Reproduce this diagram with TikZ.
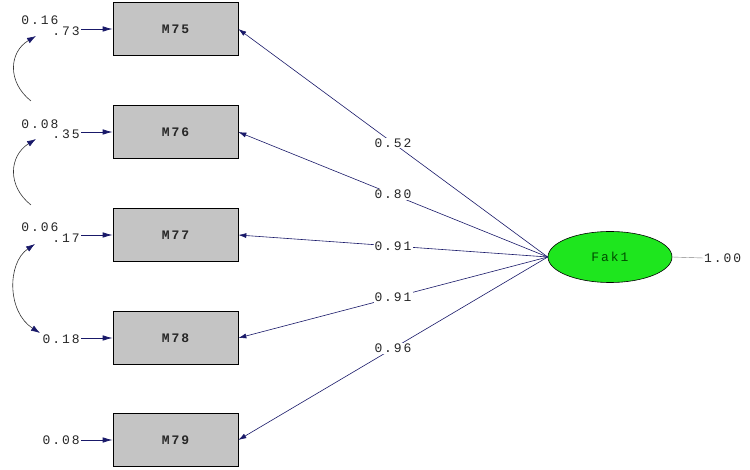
\documentclass[tikz,border=0pt]{standalone}
\usepackage{fontspec}
\newfontfamily\mono[LetterSpace=15]{Liberation Mono}
\usetikzlibrary{arrows.meta,shapes.geometric}
\definecolor{navy}{RGB}{25,25,105}
\definecolor{boxgray}{RGB}{196,196,196}
\definecolor{fakgreen}{RGB}{30,230,30}
\tikzset{covtip/.tip={Latex[length=9pt,width=6pt,color=navy]}}
\begin{document}
\begin{tikzpicture}[x=1pt,y=-1pt,
  txt/.style={font=\mono\fontsize{13}{13}\selectfont},
  obs/.style={draw=black, line width=0.7pt, fill=boxgray, minimum width=125pt, minimum height=53pt, inner sep=0pt, font=\mono\fontsize{13}{13}\selectfont\bfseries, text=black!85},
  lat/.style={draw=black, line width=0.6pt, fill=fakgreen, ellipse, minimum width=124pt, minimum height=51pt, inner sep=0pt, txt, text=green!30!black},
  lbl/.style={txt, inner sep=1pt, text=black!85},
  pathline/.style={draw=navy, line width=0.6pt, -{Latex[length=8pt,width=5pt]}},
  err/.style={draw=navy, line width=0.8pt, -{Latex[length=10pt,width=5.5pt]}},
  cov/.style={draw=black!80, line width=0.6pt}
]
\useasboundingbox (0,0) rectangle (750,470);
\fill[white] (0,0) rectangle (750,470);
\node[obs] (m75) at (175.5,29) {M75};
\node[obs] (m76) at (175.5,132) {M76};
\node[obs] (m77) at (175.5,235) {M77};
\node[obs] (m78) at (175.5,338) {M78};
\node[obs] (m79) at (175.5,440) {M79};
\node[lat] (fak) at (610,257) {Fak1};
\coordinate (src) at (fak.west);
% paths
\draw[pathline] (src) -- node[lbl, fill=white, pos=0.5] {0.52} (m75.east);
\draw[pathline] (src) -- node[lbl, fill=white, pos=0.5] {0.80} (m76.east);
\draw[pathline] (src) -- node[lbl, fill=white, pos=0.5] {0.91} (m77.east);
\draw[pathline] (src) -- node[lbl, fill=white, pos=0.5] {0.91} (m78.east);
\draw[pathline] (src) -- node[lbl, fill=white, pos=0.5] {0.96} (m79.east);
% factor variance
\node[lbl, anchor=west] (v) at (703,258) {1.00};
\draw[gray, line width=0.4pt] (fak.east) -- (v.west);
% error variances
\node[lbl, anchor=east] (e75) at (81,31) {.73};
\node[lbl, anchor=east] (e76) at (81,134) {.35};
\node[lbl, anchor=east] (e77) at (81,238) {.17};
\node[lbl, anchor=east] (e78) at (81,339) {0.18};
\node[lbl, anchor=east] (e79) at (81,440) {0.08};
\draw[err] (e75.east |- m75.west) -- (m75.west);
\draw[err] (e76.east |- m76.west) -- (m76.west);
\draw[err] (e77.east |- m77.west) -- (m77.west);
\draw[err] (e78.east |- m78.west) -- (m78.west);
\draw[err] (e79.east |- m79.west) -- (m79.west);
% covariance labels
\node[lbl] (c1) at (40,20) {0.16};
\node[lbl] (c2) at (40,124) {0.08};
\node[lbl] (c3) at (40,227) {0.06};
% covariance arcs
\coordinate (a1s) at (31,101);
\coordinate (a1e) at (36,36);
\coordinate (a2s) at (31,205);
\coordinate (a2e) at (36,139);
\coordinate (a3s) at (35,244);
\coordinate (a3e) at (40,333);
\draw[cov, -covtip] (a1s) .. controls (7,82) and (9,52) .. (a1e);
\draw[cov, -covtip] (a2s) .. controls (7,186) and (9,156) .. (a2e);
\draw[cov, covtip-covtip] (a3s) .. controls (7,263) and (7,312) .. (a3e);
\end{tikzpicture}
\end{document}
